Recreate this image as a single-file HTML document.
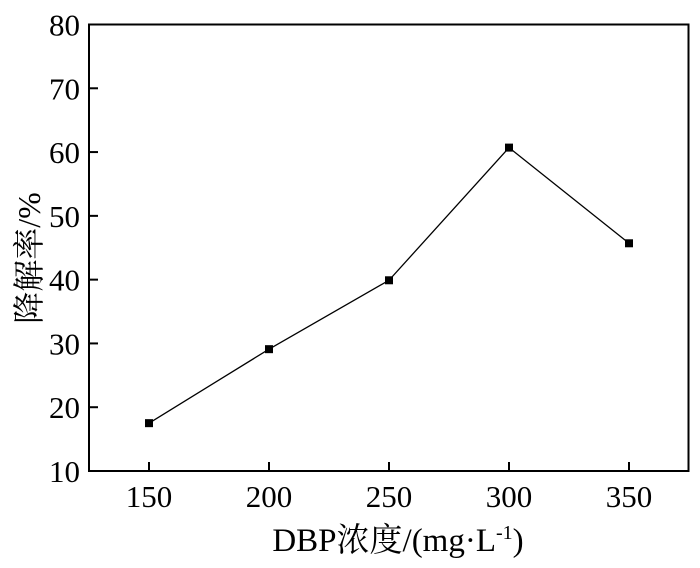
<!DOCTYPE html>
<html><head><meta charset="utf-8"><style>
body{margin:0;background:#fff;}
svg text{font-family:"Liberation Serif","Noto Serif CJK SC",serif;fill:#000;}
</style></head><body>
<svg id="chart" width="700" height="563">
<rect x="89" y="24.5" width="599.5" height="446.5" fill="none" stroke="#000" stroke-width="2"/>
<g id="axes"></g>
<g id="series"></g>
<text x="398" y="551" text-anchor="middle" font-size="33">DBP浓度/(mg·L<tspan dy="-12" font-size="20">-1</tspan><tspan dy="12">)</tspan></text>
<text transform="translate(40,258) rotate(-90)" text-anchor="middle" font-size="32">降解率/%</text>
</svg>
<script>
const categories=[150,200,250,300,350];
const values=[17.5,29.1,39.9,60.7,45.7];
const yTicks=[10,20,30,40,50,60,70,80];
const xTicks=[150,200,250,300,350];
const NS="http://www.w3.org/2000/svg";
function xs(v){return 149+(v-150)*(480/200);}
function ys(v){return 471-(v-10)*(446.5/70);}
const ax=document.getElementById('axes'),se=document.getElementById('series');
function mk(t,a,p){const e=document.createElementNS(NS,t);for(const k in a)e.setAttribute(k,a[k]);p.appendChild(e);return e;}
yTicks.forEach(v=>{
 const y=ys(v);
 if(v>10&&v<80){const l=mk('line',{x1:89,x2:98,y1:y,y2:y,stroke:'#000','stroke-width':2},ax);
 
 }
 const t=mk('text',{x:80,y:y+11,'text-anchor':'end','font-size':31},ax);t.textContent=v;
 
 
});
xTicks.forEach(v=>{
 const x=xs(v);
 const l=mk('line',{x1:x,x2:x,y1:471,y2:462,stroke:'#000','stroke-width':2},ax);
 
 
 const t=mk('text',{x:x,y:507,'text-anchor':'middle','font-size':31},ax);t.textContent=v;
 
 
});
const pts=categories.map((c,i)=>xs(c)+','+ys(values[i])).join(' ');
const pl=mk('polyline',{points:pts,fill:'none',stroke:'#000','stroke-width':1.3},se);


categories.forEach((c,i)=>{
 const r=mk('rect',{x:xs(c)-4,y:ys(values[i])-4,width:8,height:8,fill:'#000'},se);
 
 
});
</script>
</body></html>
